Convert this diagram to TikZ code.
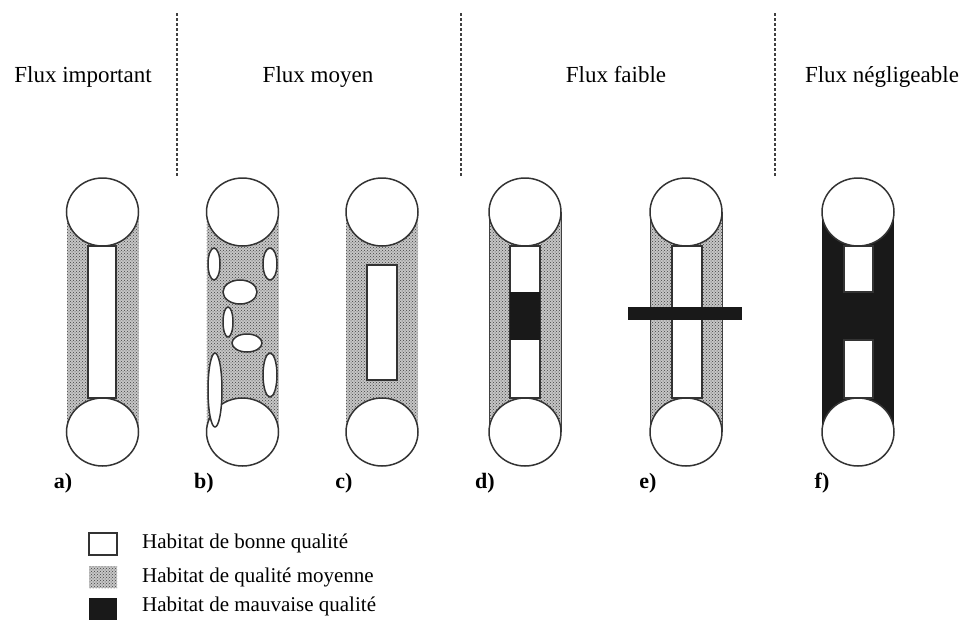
\documentclass[tikz,border=0pt]{standalone}
\usepackage{fontspec}
\setmainfont{Liberation Serif}
\usetikzlibrary{patterns}
\tikzset{
 stipple/.style={fill=gray!45, postaction={pattern=crosshatch dots, pattern color=black!75}},
 ring/.style={draw=black!80, line width=1.5pt, fill=white},
 hole/.style={draw=black!80, line width=1.5pt, fill=white},
 dark/.style={fill=black!90},
 edge/.style={draw=black!75, line width=0.9pt},
 sep/.style={draw=black!75, dash pattern=on 3pt off 2pt, line width=1.4pt},
 title/.style={font=\fontsize{23}{26}\selectfont, anchor=base, inner sep=0pt},
 tag/.style={font=\bfseries\fontsize{22}{24}\selectfont, anchor=base, inner sep=0pt},
 leg/.style={font=\fontsize{21}{24}\selectfont, anchor=base west, inner sep=0pt},
}
\newcommand\capcircles[1]{%
  \draw[ring] (#1,212) ellipse [x radius=36pt, y radius=34pt];
  \draw[ring] (#1,432) ellipse [x radius=36pt, y radius=34pt];}
\begin{document}
\begin{tikzpicture}[x=1pt,y=-1pt]
\useasboundingbox (0,0) rectangle (967,624);
% separators
\draw[sep] (177,13) -- (177,177);
\draw[sep] (461,13) -- (461,177);
\draw[sep] (775,13) -- (775,177);
% titles
\node[title] (t1) at (83,82) {Flux important};
\node[title] (t2) at (318,82) {Flux moyen};
\node[title] (t3) at (616,82) {Flux faible};
\node[title] (t4) at (882,82) {Flux négligeable};
% panel a
\fill[stipple] (66.5,212) rectangle (138.5,432);
\draw[hole] (88,246) rectangle (116,398);
\capcircles{102.5}
% panel b
\fill[stipple] (206.5,212) rectangle (278.5,432);
\capcircles{242.5}
\draw[hole] (214,264) ellipse [x radius=6pt, y radius=16pt];
\draw[hole] (270,264) ellipse [x radius=7pt, y radius=16pt];
\draw[hole] (240,292) ellipse [x radius=17pt, y radius=12pt];
\draw[hole] (228,322) ellipse [x radius=5pt, y radius=15pt];
\draw[hole] (247,343) ellipse [x radius=15pt, y radius=9pt];
\draw[hole] (270,375) ellipse [x radius=7pt, y radius=22pt];
\draw[hole] (215,390) ellipse [x radius=7pt, y radius=37pt];
% panel c
\fill[stipple] (346,212) rectangle (418,432);
\draw[hole] (367,265) rectangle (397,380);
\capcircles{382}
% panel d
\fill[stipple] (489,212) rectangle (561,432);
\draw[edge] (489,212) -- (489,432) (561,212) -- (561,432);
\draw[hole] (510,246) rectangle (540,398);
\fill[dark] (510,292) rectangle (540,340);
\capcircles{525}
% panel e
\fill[stipple] (650,212) rectangle (722,432);
\draw[edge] (650,212) -- (650,432) (722,212) -- (722,432);
\draw[hole] (672,246) rectangle (702,398);
\fill[dark] (628,307) rectangle (742,320);
\capcircles{686}
% panel f
\fill[dark] (822,212) rectangle (894,432);
\draw[hole] (844,246) rectangle (873,292);
\draw[hole] (844,340) rectangle (873,398);
\capcircles{858}
% tags
\node[tag] (la) at (63,488) {a)};
\node[tag] (lb) at (204,488) {b)};
\node[tag] (lc) at (344,488) {c)};
\node[tag] (ld) at (485,488) {d)};
\node[tag] (le) at (648,488) {e)};
\node[tag] (lf) at (822,488) {f)};
% legend
\draw[draw=black!80, line width=1.2pt, fill=white] (89,533) rectangle (117,555);
\fill[stipple] (89,566) rectangle (117,588);
\fill[dark] (89,598) rectangle (117,620);
\node[leg] (g1) at (142,548) {Habitat de bonne qualité};
\node[leg] (g2) at (142,582) {Habitat de qualité moyenne};
\node[leg] (g3) at (142,611) {Habitat de mauvaise qualité};
\end{tikzpicture}
\end{document}
